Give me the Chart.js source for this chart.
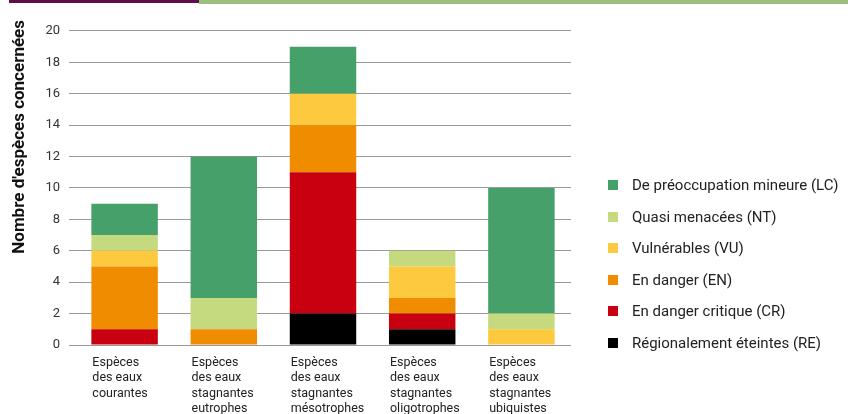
<!DOCTYPE html>
<html>
<head>
<meta charset="utf-8">
<script src="https://cdn.jsdelivr.net/npm/chart.js@4.4.1/dist/chart.umd.min.js"></script>
<style>
    html, body { margin: 0; padding: 0; background: #ffffff; }
    #wrap { position: relative; width: 848px; height: 414px; overflow: hidden; font-family: Roboto, "Liberation Sans", sans-serif; }
    #barPurple { position: absolute; left: 9px; top: 0; width: 190px; height: 3px; background: #5f0f47; }
    #barGreen { position: absolute; left: 199px; top: 0; width: 649px; height: 4px; background: #9bbd7e; }
    #myChart { position: absolute; left: 0; top: 0; }
    #legend { position: absolute; left: 608px; top: 176px; margin: 0; padding: 0; list-style: none; }
    #legend li { position: relative; height: 31.6px; line-height: 18px; font-size: 15px; color: #222222; white-space: nowrap; }
    #legend li span { position: absolute; left: 0; top: 4px; width: 10px; height: 10px; }
    #legend li em { font-style: normal; position: absolute; left: 24px; top: 0; }
</style>
</head>
<body>
<div id="wrap">
    <div id="barPurple"></div>
    <div id="barGreen"></div>
    <canvas id="myChart" width="848" height="414"></canvas>
    <ul id="legend"></ul>
</div>
<script>
var categories = [
    ['Espèces', 'des eaux', 'courantes'],
    ['Espèces', 'des eaux', 'stagnantes', 'eutrophes'],
    ['Espèces', 'des eaux', 'stagnantes', 'mésotrophes'],
    ['Espèces', 'des eaux', 'stagnantes', 'oligotrophes'],
    ['Espèces', 'des eaux', 'stagnantes', 'ubiquistes']
];
var seriesNames = [
    'Régionalement éteintes (RE)',
    'En danger critique (CR)',
    'En danger (EN)',
    'Vulnérables (VU)',
    'Quasi menacées (NT)',
    'De préoccupation mineure (LC)'
];
var valuesRE = [0, 0, 2, 1, 0];
var valuesCR = [1, 0, 9, 1, 0];
var valuesEN = [4, 1, 3, 1, 0];
var valuesVU = [1, 0, 2, 2, 1];
var valuesNT = [1, 2, 0, 1, 1];
var valuesLC = [2, 9, 3, 0, 8];
var seriesColors = ['#000000', '#c8000f', '#f08c00', '#fcc93f', '#c5d97f', '#46a06a'];
var yTickStep = 2;
var yMaxTick = 20;

var fontFamily = 'Roboto, "Liberation Sans", sans-serif';

// draws the x labels left aligned on each bar
var xLabelPlugin = {
    id: 'xLabels',
    afterDraw: function (chart) {
        var ctx = chart.ctx;
        var meta = chart.getDatasetMeta(0);
        var bottom = chart.chartArea.bottom;
        ctx.save();
        ctx.font = '12.5px ' + fontFamily;
        ctx.fillStyle = '#222222';
        ctx.textAlign = 'left';
        ctx.textBaseline = 'middle';
        meta.data.forEach(function (bar, i) {
            var left = bar.x - bar.width / 2 + 1;
            categories[i].forEach(function (line, j) {
                ctx.fillText(line, left, bottom + 17.5 + j * 15.5);
            });
        });
        ctx.restore();
    }
};

var valueLists = [valuesRE, valuesCR, valuesEN, valuesVU, valuesNT, valuesLC];
var datasets = [];
for (var i = 0; i < seriesNames.length; i++) {
    datasets.push({
        label: seriesNames[i],
        data: valueLists[i],
        backgroundColor: seriesColors[i],
        borderWidth: 0,
        barPercentage: 0.67,
        categoryPercentage: 1
    });
}

var ctx = document.getElementById('myChart').getContext('2d');
var myChart = new Chart(ctx, {
    type: 'bar',
    data: {
        labels: categories.map(function (c) { return c.join(' '); }),
        datasets: datasets
    },
    plugins: [xLabelPlugin],
    options: {
        responsive: false,
        animation: false,
        layout: { padding: { top: 20, left: 0, right: 277, bottom: 69 } },
        plugins: {
            tooltip: { enabled: false },
            legend: { display: false }
        },
        scales: {
            x: {
                stacked: true,
                grid: { display: false, drawTicks: false },
                border: { display: false },
                ticks: { display: false },
                afterFit: function (scale) { scale.height = 0; }
            },
            y: {
                stacked: true,
                min: 0,
                max: yMaxTick + 0.7,
                afterFit: function (scale) { scale.width = 75; },
                grid: { color: '#999999', lineWidth: 1, tickLength: 6 },
                border: { display: false },
                ticks: {
                    stepSize: yTickStep,
                    includeBounds: false,
                    padding: 9,
                    color: '#333333',
                    font: { family: fontFamily, size: 13 }
                },
                title: {
                    display: true,
                    align: 'end',
                    text: "Nombre d'espèces concernées",
                    color: '#111111',
                    padding: { top: 10, bottom: 0 },
                    font: { family: fontFamily, size: 17, weight: 'bold' }
                }
            }
        }
    }
});

// legend list, top item = last dataset
var legendEl = document.getElementById('legend');
myChart.data.datasets.slice().reverse().forEach(function (ds) {
    var li = document.createElement('li');
    li.innerHTML = '<span style="background:' + ds.backgroundColor + '"></span><em>' + ds.label + '</em>';
    legendEl.appendChild(li);
});
</script>
</body>
</html>
